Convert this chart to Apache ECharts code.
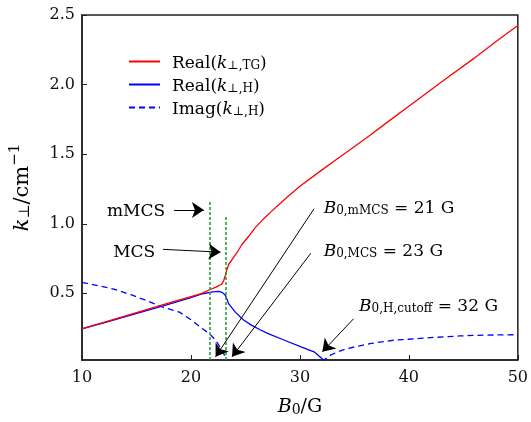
<!DOCTYPE html>
<html>
<head>
<meta charset="utf-8">
<script src="https://cdn.jsdelivr.net/npm/echarts@6/dist/echarts.min.js"></script>
<style>
  html, body { margin: 0; padding: 0; background: #fff; }
  #main { width: 531px; height: 422px; }
</style>
</head>
<body>
<div id="main"></div>
<script>
// Real(k_perp,TG)
const tgX = [10, 12, 14, 16, 18, 20, 21, 21.66, 22.3, 22.8, 23.0, 23.16, 23.3, 23.47, 23.8, 24.2, 24.68, 25.3, 25.88, 26.6, 27.39, 28.1, 28.9, 30, 31.9, 33.5, 34.92, 36.5, 37.94, 40, 43.36, 46, 48, 50]
const tgY = [0.246, 0.292, 0.338, 0.385, 0.431, 0.477, 0.5, 0.524, 0.545, 0.565, 0.59, 0.63, 0.67, 0.709, 0.745, 0.79, 0.851, 0.91, 0.97, 1.03, 1.089, 1.14, 1.196, 1.27, 1.38, 1.47, 1.55, 1.64, 1.725, 1.845, 2.04, 2.19, 2.31, 2.424]
// Real(k_perp,H)
const reHX = [10, 12, 14, 16, 18, 20, 21.07, 22.0, 22.57, 22.9, 23.17, 23.47, 24.07, 24.8, 25.58, 26.3, 27.09, 28.59, 30.1, 31.3, 32.2]
const reHY = [0.244, 0.288, 0.333, 0.378, 0.423, 0.47, 0.497, 0.51, 0.514, 0.505, 0.484, 0.424, 0.365, 0.31, 0.27, 0.24, 0.21, 0.163, 0.115, 0.08, 0.02]
// Imag(k_perp,H)
const imHX = [10, 11.5, 12.92, 14.5, 15.93, 17.44, 18.95, 20, 21.06, 21.7, 22.26, 22.7, 23.16, 23.3, 32.1, 32.2, 32.81, 33.5, 34.32, 35.6, 36.43, 38.6, 41.65, 44.66, 47, 50]
const imHY = [0.579, 0.555, 0.53, 0.49, 0.448, 0.4, 0.365, 0.31, 0.246, 0.21, 0.163, 0.11, 0.044, 0, 0, 0.02, 0.056, 0.08, 0.103, 0.125, 0.139, 0.163, 0.18, 0.194, 0.2, 0.203]

const xTicks = [10, 20, 30, 40, 50]
const yTicks = [0.5, 1.0, 1.5, 2.0, 2.5]

// MCS markers (dotted green)
const mcsX = [21.69, 23.23]
const mcsTop = [1.17, 1.06]

// annotation arrows and texts
const arrowFrom = [[18.44, 1.099], [17.44, 0.816], [31.3, 1.108], [31.0, 0.788], [34.92, 0.317]]
const arrowTo = [[21.19, 1.099], [22.72, 0.796], [22.26, 0.044], [23.77, 0.044], [32.06, 0.08]]
const noteX = [17.63, 16.72, 32.18, 32.18, 35.43]
const noteY = [1.099, 0.81, 1.127, 0.813, 0.422]
const noteText = [
  '{t|mMCS}',
  '{t|MCS}',
  '{i|B}{s|0,mMCS}{t| = 21 G}',
  '{i|B}{s|0,MCS}{t| = 23 G}',
  '{i|B}{s|0,H,cutoff}{t| = 32 G}'
]
const noteSide = ['left', 'left', 'right', 'right', 'right']

const names = ['Real(k⊥,TG)', 'Real(k⊥,H)', 'Imag(k⊥,H)']
const legendText = {
  'Real(k⊥,TG)': '{t|Real(}{i|k}{s|⊥,TG}{t|)}',
  'Real(k⊥,H)': '{t|Real(}{i|k}{s|⊥,H}{t|)}',
  'Imag(k⊥,H)': '{t|Imag(}{i|k}{s|⊥,H}{t|)}'
}

const serif = 'DejaVu Serif'
const ink = '#000'
const yMin = 0.021

function makeRich(size) {
  const sub = Math.round(size * 0.72)
  return {
    t: { fontFamily: serif, fontSize: size, color: ink, opacity: 1, lineHeight: size + 4, verticalAlign: 'bottom' },
    i: { fontFamily: serif, fontSize: size, fontStyle: 'italic', color: ink, opacity: 1, lineHeight: size + 4, verticalAlign: 'bottom' },
    s: { fontFamily: serif, fontSize: sub, color: ink, opacity: 1, lineHeight: sub, verticalAlign: 'bottom' },
    p: { fontFamily: serif, fontSize: sub, color: ink, opacity: 1, lineHeight: sub, verticalAlign: 'top' }
  }
}

function zip(xs, ys) {
  return xs.map((x, i) => [x, ys[i]])
}

const chart = echarts.init(document.getElementById('main'))

chart.setOption({
  animation: false,
  grid: {
    left: 78,
    right: 11,
    top: 15,
    bottom: 59,
    show: true,
    borderColor: '#222',
    borderWidth: 1.5
  },
  legend: {
    data: names,
    orient: 'vertical',
    left: 128,
    top: 55,
    padding: 0,
    itemWidth: 31,
    itemHeight: 14,
    itemGap: 6,
    itemStyle: { opacity: 0 },
    formatter: (name) => legendText[name],
    textStyle: { rich: makeRich(17), padding: [0, 0, 0, 7] }
  },
  xAxis: {
    type: 'value',
    min: 10,
    max: 50,
    interval: 10,
    name: '{i|B}{s|0}{t|/G}',
    nameLocation: 'middle',
    nameGap: 34,
    nameTextStyle: { rich: makeRich(19) },
    axisLine: { show: true, lineStyle: { color: '#222', width: 1.5 } },
    axisTick: { inside: true, length: 5, lineStyle: { color: '#222' }, customValues: xTicks },
    axisLabel: { fontFamily: serif, fontSize: 16, color: '#111', margin: 10, customValues: xTicks },
    splitLine: { show: false }
  },
  yAxis: {
    type: 'value',
    min: yMin,
    max: 2.5,
    name: '{i|k}{s|⊥}{t|/cm}{p|−1}',
    nameLocation: 'middle',
    nameRotate: 90,
    nameGap: 49,
    nameTextStyle: { rich: makeRich(21) },
    axisLine: { show: true, lineStyle: { color: '#222', width: 1.5 } },
    axisTick: { inside: true, length: 5, lineStyle: { color: '#222' }, customValues: yTicks },
    axisLabel: { fontFamily: serif, fontSize: 16, color: '#111', margin: 7, customValues: yTicks, formatter: (v) => v.toFixed(1) },
    splitLine: { show: false }
  },
  series: [
    {
      name: names[0],
      type: 'line',
      data: zip(tgX, tgY),
      symbol: 'none',
      clip: true,
      lineStyle: { color: '#ff0000', width: 1.3 },
      itemStyle: { color: '#ff0000' },
      z: 4
    },
    {
      name: names[1],
      type: 'line',
      data: zip(reHX, reHY),
      symbol: 'none',
      clip: true,
      lineStyle: { color: '#0000ff', width: 1.3 },
      itemStyle: { color: '#0000ff' },
      z: 3
    },
    {
      name: names[2],
      type: 'line',
      data: zip(imHX, imHY),
      symbol: 'none',
      clip: true,
      lineStyle: { color: '#0000ff', width: 1.3, type: [6, 4] },
      itemStyle: { color: '#0000ff' },
      z: 3
    },
    {
      // green dotted MCS markers
      type: 'line',
      data: [],
      markLine: {
        silent: true,
        symbol: 'none',
        label: { show: false },
        lineStyle: { color: '#22962a', width: 1.5, type: [3, 2] },
        data: mcsX.map((x, i) => [{ coord: [x, yMin] }, { coord: [x, mcsTop[i]] }])
      }
    },
    {
      // arrows
      type: 'line',
      data: [],
      markLine: {
        silent: true,
        symbol: ['none', 'arrow'],
        symbolSize: 12,
        label: { show: false },
        lineStyle: { color: '#000', width: 1, type: 'solid' },
        data: arrowFrom.map((p, i) => [{ coord: p }, { coord: arrowTo[i] }])
      }
    },
    {
      // annotation texts
      type: 'scatter',
      silent: true,
      symbolSize: 0,
      itemStyle: { opacity: 1 },
      data: noteX.map((x, i) => ({
        value: [x, noteY[i]],
        label: {
          show: true,
          position: noteSide[i],
          distance: 0,
          color: ink,
          opacity: 1,
          formatter: noteText[i],
          rich: makeRich(17)
        }
      }))
    }
  ]
})
</script>
</body>
</html>
